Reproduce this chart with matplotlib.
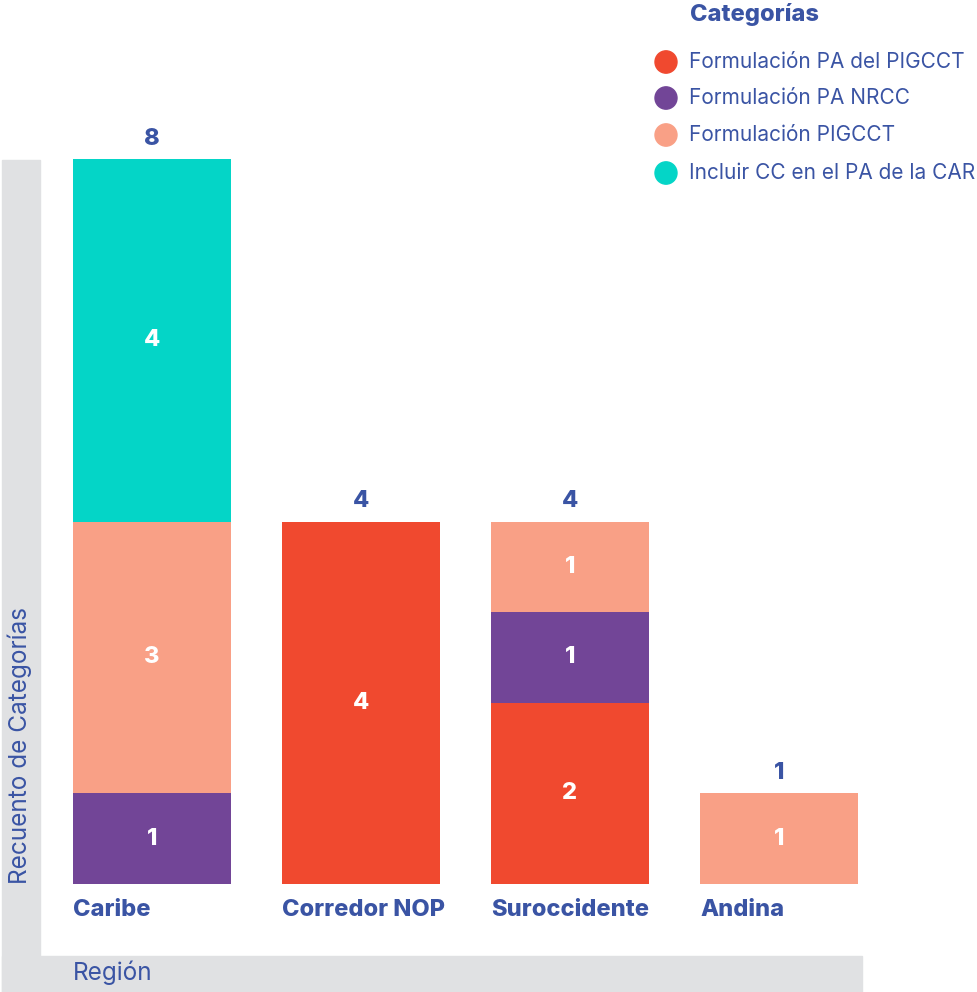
import matplotlib.pyplot as plt
from matplotlib.patches import Rectangle
import numpy as np

plt.rcParams['font.family'] = ['Inter', 'DejaVu Sans']

regions = ['Caribe', 'Corredor NOP', 'Suroccidente', 'Andina']
categories = ['Formulación PA del PIGCCT', 'Formulación PA NRCC',
              'Formulación PIGCCT', 'Incluir CC en el PA de la CAR']
values = {
    'Formulación PA del PIGCCT': [0, 4, 2, 0],
    'Formulación PA NRCC': [1, 0, 1, 0],
    'Formulación PIGCCT': [3, 0, 1, 1],
    'Incluir CC en el PA de la CAR': [4, 0, 0, 0],
}
colors = ['#F0492F', '#724597', '#F9A086', '#04D5C7']
text_blue = '#3A54A4'
band_gray = '#E0E1E3'

W, H = 978, 992
fig = plt.figure(figsize=(W / 100, H / 100), dpi=100)


def fx(px):
    return px / W


def fy(py):
    return 1 - py / H


# gray bands for axis titles
fig.patches.append(Rectangle((fx(2), fy(992)), fx(40) - fx(2), fy(160) - fy(992),
                             transform=fig.transFigure, color=band_gray, zorder=0))
fig.patches.append(Rectangle((fx(2), fy(992)), fx(862) - fx(2), fy(956) - fy(992),
                             transform=fig.transFigure, color=band_gray, zorder=0))

ax = fig.add_axes([fx(73), fy(884), fx(858) - fx(73), fy(159) - fy(884)])
x = np.arange(len(regions))
width = 0.756
bottom = np.zeros(len(regions))
for cat, col in zip(categories, colors):
    v = np.array(values[cat], dtype=float)
    ax.bar(x, v, width, bottom=bottom, color=col)
    for xi, vi, bi in zip(x, v, bottom):
        if vi > 0:
            ax.text(xi, bi + vi / 2, f'{int(vi)}', ha='center', va='center',
                    color='white', fontsize=17, fontweight='heavy')
    bottom += v

for xi, tot in zip(x, bottom):
    ax.text(xi, tot + 0.1, f'{int(tot)}', ha='center', va='bottom',
            color=text_blue, fontsize=17, fontweight='heavy')
    ax.text(xi - width / 2, -0.29, regions[xi], ha='left', va='center',
            color=text_blue, fontsize=17, fontweight='heavy')

ax.set_xlim(-width / 2, len(regions) - 1 + width / 2)
ax.set_ylim(0, 8)
ax.axis('off')

fig.text(fx(20), fy(884), 'Recuento de Categorías', rotation=90,
         rotation_mode='anchor', ha='left', va='center', color=text_blue, fontsize=17.5)
fig.text(fx(73), fy(973), 'Región', ha='left', va='center', color=text_blue, fontsize=17.5)

# legend
fig.text(fx(690), fy(15), 'Categorías', ha='left', va='center',
         color=text_blue, fontsize=17, fontweight='heavy')
rows = [62, 98, 135, 173]
for cat, col, ry in zip(categories, colors, rows):
    fig.patches.append(plt.Circle((fx(666), fy(ry)), 11 / W, transform=fig.transFigure,
                                  color=col))
    fig.text(fx(689), fy(ry), cat, ha='left', va='center', color=text_blue, fontsize=15)

fig.savefig('out.png', dpi=100)
